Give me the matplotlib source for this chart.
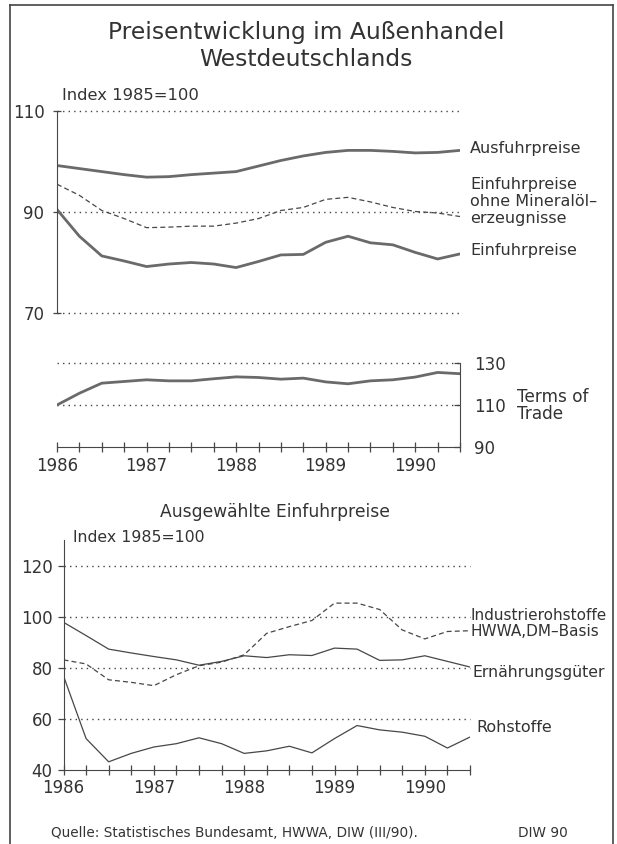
import matplotlib
matplotlib.use("Agg")
import matplotlib.pyplot as plt
from matplotlib.lines import Line2D

# Quartale 1986 I bis 1990 III
zeit = [1986.0, 1986.25, 1986.5, 1986.75, 1987.0, 1987.25, 1987.5, 1987.75,
        1988.0, 1988.25, 1988.5, 1988.75, 1989.0, 1989.25, 1989.5, 1989.75,
        1990.0, 1990.25, 1990.5]
jahre = [1986, 1987, 1988, 1989, 1990]

# oberes Bild: Index 1985=100
ausfuhr = [99.2, 98.6, 98.0, 97.4, 96.9, 97.0, 97.4, 97.7, 98.0, 99.1,
           100.2, 101.1, 101.8, 102.2, 102.2, 102.0, 101.7, 101.8, 102.2]
ohne_oel = [95.5, 93.3, 90.3, 88.7, 86.9, 87.0, 87.2, 87.2, 87.8, 88.7,
            90.3, 90.9, 92.5, 92.9, 92.0, 90.9, 90.1, 89.8, 89.1]
einfuhr = [90.5, 85.2, 81.3, 80.3, 79.2, 79.7, 80.0, 79.7, 79.0, 80.2,
           81.5, 81.6, 84.0, 85.2, 83.9, 83.5, 82.0, 80.7, 81.7]
terms_of_trade = [110.0, 115.6, 120.4, 121.2, 122.0, 121.5, 121.5, 122.5, 123.4, 123.1,
                  122.3, 122.8, 121.0, 120.1, 121.5, 122.0, 123.3, 125.5, 124.9]

# unteres Bild: ausgewaehlte Einfuhrpreise
industrie = [83.1, 81.5, 75.3, 74.3, 73.0, 77.3, 80.8, 82.2, 85.1, 93.5,
             96.1, 98.5, 105.3, 105.3, 102.8, 94.8, 91.3, 94.2, 94.5]
ernaehrung = [97.8, 92.6, 87.3, 85.8, 84.4, 83.1, 81.0, 82.5, 84.7, 84.0,
              85.1, 84.8, 87.7, 87.3, 82.9, 83.1, 84.7, 82.5, 80.3]
rohstoffe = [76.8, 52.3, 43.2, 46.5, 49.0, 50.3, 52.6, 50.3, 46.5, 47.5,
             49.3, 46.7, 52.3, 57.4, 55.7, 54.8, 53.2, 48.6, 52.9]

W, H = 617, 844
TXT = "#333333"
DICK = "#6a6a6a"
DUENN = "#474747"
GRID = dict(color="#444444", linestyle=(0, (1, 3)), linewidth=1.0, clip_on=False)
plt.rcParams["font.family"] = ["DejaVu Sans"]

fig = plt.figure(figsize=(W / 100, H / 100), dpi=100)
fig.patch.set_facecolor("white")


def achse(x0, x1, ytop, ybot):
    # Achse aus Pixelkoordinaten (von oben gemessen)
    ax = fig.add_axes([x0 / W, 1 - ybot / H, (x1 - x0) / W, (ybot - ytop) / H])
    ax.patch.set_alpha(0)
    for s in ax.spines.values():
        s.set_visible(False)
    return ax


def ftext(x, y, s, **kw):
    kw.setdefault("color", TXT)
    fig.text(x / W, 1 - y / H, s, **kw)


# Rahmen
for seg in [((10, 10), (5, 844)), ((10, 613), (5, 5)), ((613, 613), (5, 844))]:
    fig.add_artist(Line2D([seg[0][0] / W, seg[0][1] / W],
                          [1 - seg[1][0] / H, 1 - seg[1][1] / H],
                          color="#444444", lw=1.2, transform=fig.transFigure))

ftext(306, 33, "Preisentwicklung im Außenhandel", fontsize=16.8, ha="center", va="center")
ftext(306, 60, "Westdeutschlands", fontsize=16.8, ha="center", va="center")

# --- oberes Bild ---
ax1 = achse(57, 460, 111, 313)
ax1.set_xlim(1986, 1990.5)
ax1.set_ylim(70, 110)
ax1.spines["left"].set_visible(True)
ax1.spines["left"].set_color(DUENN)
for v in [110, 90, 70]:
    ax1.axhline(v, **GRID)
ax1.plot(zeit, ausfuhr, color=DICK, lw=2.0)
ax1.plot(zeit, ohne_oel, color=DUENN, lw=0.9, linestyle=(0, (4, 2.5)))
ax1.plot(zeit, einfuhr, color=DICK, lw=2.0)
ax1.set_xticks([])
ax1.set_yticks([110, 90, 70])
ax1.tick_params(axis="y", direction="inout", length=6, width=0.9, colors=DUENN,
                labelcolor=TXT, labelsize=12, pad=6)
ftext(62, 96, "Index 1985=100", fontsize=11.8, va="center")
ftext(470, 149, "Ausfuhrpreise", fontsize=11.5, va="center")
ftext(470, 185, "Einfuhrpreise", fontsize=11.5, va="center")
ftext(470, 202, "ohne Mineralöl–", fontsize=11.5, va="center")
ftext(470, 219, "erzeugnisse", fontsize=11.5, va="center")
ftext(470, 250, "Einfuhrpreise", fontsize=11.5, va="center")

# --- Terms of Trade ---
ax2 = achse(57, 460, 363, 447)
ax2.set_xlim(1986, 1990.5)
ax2.set_ylim(90, 130)
ax2.spines["right"].set_visible(True)
ax2.spines["bottom"].set_visible(True)
ax2.spines["right"].set_color(DUENN)
ax2.spines["bottom"].set_color(DUENN)
for v in [130, 110]:
    ax2.axhline(v, **GRID)
ax2.plot(zeit, terms_of_trade, color=DICK, lw=2.0)
ax2.yaxis.tick_right()
ax2.set_yticks([130, 110, 90])
ax2.tick_params(axis="y", direction="in", length=4, width=0.9, colors=DUENN,
                labelcolor=TXT, labelsize=12, pad=10)
ax2.set_xticks(jahre)
ax2.set_xticklabels([str(j) for j in jahre])
ax2.set_xticks(zeit, minor=True)
ax2.tick_params(axis="x", which="both", direction="inout", length=7, width=0.9,
                colors=DUENN, labelcolor=TXT, labelsize=12, pad=4)
ftext(517, 397, "Terms of", fontsize=12.2, va="center")
ftext(517, 414, "Trade", fontsize=12.2, va="center")

# --- unteres Bild ---
ftext(275, 512, "Ausgewählte Einfuhrpreise", fontsize=12.3, ha="center", va="center")
ax3 = achse(63.5, 470, 540, 770)
ax3.set_xlim(1986, 1990.5)
ax3.set_ylim(40, 130)
ax3.spines["left"].set_visible(True)
ax3.spines["bottom"].set_visible(True)
ax3.spines["left"].set_color(DUENN)
ax3.spines["bottom"].set_color(DUENN)
for v in [120, 100, 80, 60]:
    ax3.axhline(v, **GRID)
ax3.plot(zeit, ernaehrung, color=DUENN, lw=0.9)
ax3.plot(zeit, industrie, color=DUENN, lw=0.9, linestyle=(0, (4, 2.5)))
ax3.plot(zeit, rohstoffe, color=DUENN, lw=0.9)
ax3.set_yticks([120, 100, 80, 60, 40])
ax3.tick_params(axis="y", direction="out", length=4, width=0.9, colors=DUENN,
                labelcolor=TXT, labelsize=12, pad=4)
ax3.set_xticks(jahre)
ax3.set_xticklabels([str(j) for j in jahre])
ax3.set_xticks(zeit, minor=True)
ax3.tick_params(axis="x", which="both", direction="inout", length=7, width=0.9,
                colors=DUENN, labelcolor=TXT, labelsize=12, pad=3)
ftext(73, 538, "Index 1985=100", fontsize=11.3, va="center")
ftext(471, 616, "Industrierohstoffe", fontsize=11, va="center")
ftext(471, 632, "HWWA,DM–Basis", fontsize=11, va="center")
ftext(473, 673, "Ernährungsgüter", fontsize=11.3, va="center")
ftext(476, 727, "Rohstoffe", fontsize=11.5, va="center")

ftext(51, 833, "Quelle: Statistisches Bundesamt, HWWA, DIW (III/90).", fontsize=9.8, va="center")
ftext(518, 833, "DIW 90", fontsize=9.8, va="center")

fig.savefig("out.png", dpi=100, facecolor="white")
